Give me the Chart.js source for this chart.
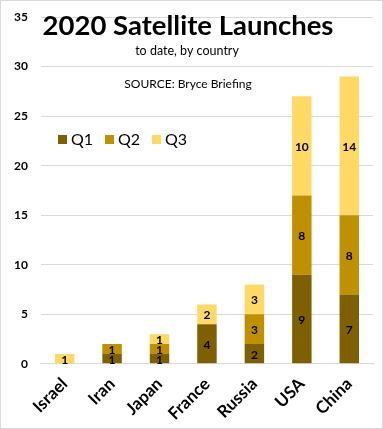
<!DOCTYPE html>
<html>
<head>
<meta charset="utf-8">
<script src="https://cdn.jsdelivr.net/npm/chart.js@4/dist/chart.umd.min.js"></script>
<style>
  body { margin: 0; background: #fff; }
  #wrap { width: 381px; height: 427px; border: 1px solid #d9d9d9; }
</style>
</head>
<body>
<div id="wrap"><canvas id="myChart" width="381" height="427"></canvas></div>
<script>
var countries = ['Israel', 'Iran', 'Japan', 'France', 'Russia', 'USA', 'China'];
var q1 = [0, 1, 1, 4, 2, 9, 7];
var q2 = [0, 1, 1, 0, 3, 8, 8];
var q3 = [1, 0, 1, 2, 3, 10, 14];
var seriesNames = ['Q1', 'Q2', 'Q3'];
var colors = ['#7F6000', '#BF9000', '#FFD966'];

var fontName = 'Lato, "Open Sans", sans-serif';

// title, notes, legend and bar labels drawn on top of the plot
var overlay = {
    id: 'overlay',
    afterDatasetsDraw: function(chart) {
        var ctx = chart.ctx;
        ctx.save();
        ctx.textAlign = 'center';
        ctx.textBaseline = 'middle';
        ctx.fillStyle = '#000';
        ctx.font = 'bold 12px ' + fontName;
        chart.data.datasets.forEach(function(ds, i) {
            var meta = chart.getDatasetMeta(i);
            meta.data.forEach(function(bar, j) {
                if (!ds.data[j]) return;
                var mid = (bar.y + bar.base) / 2;
                ctx.fillText(ds.data[j], bar.x, mid + 1);
            });
        });

        ctx.font = 'bold 27.5px ' + fontName;
        ctx.fillText('2020 Satellite Launches', 187, 25);
        ctx.font = '12.5px ' + fontName;
        ctx.fillText('to date, by country', 186, 50);
        ctx.font = '12px ' + fontName;
        ctx.fillText('SOURCE: Bryce Briefing', 187, 83);

        // legend
        var x = 57;
        ctx.textAlign = 'left';
        ctx.font = '16px ' + fontName;
        seriesNames.forEach(function(name, i) {
            ctx.fillStyle = colors[i];
            ctx.fillRect(x, 134, 9, 9);
            ctx.fillStyle = '#000';
            ctx.fillText(name, x + 13, 139);
            x += 47;
        });
        ctx.restore();
    }
};

var ctx = document.getElementById('myChart');
var myChart = new Chart(ctx, {
    type: 'bar',
    data: {
        labels: countries,
        datasets: [
            { label: 'Q1', data: q1, backgroundColor: colors[0] },
            { label: 'Q2', data: q2, backgroundColor: colors[1] },
            { label: 'Q3', data: q3, backgroundColor: colors[2] }
        ]
    },
    options: {
        responsive: false,
        animation: false,
        layout: { padding: { top: 3, right: 9, left: 0, bottom: 2 } },
        datasets: { bar: { categoryPercentage: 0.41, barPercentage: 1 } },
        plugins: {
            legend: { display: false },
            tooltip: { enabled: false }
        },
        scales: {
            x: {
                stacked: true,
                grid: { display: false },
                border: { display: true, color: '#d9d9d9' },
                ticks: {
                    color: '#000',
                    font: { family: fontName, size: 17, weight: 'bold' },
                    maxRotation: 45,
                    minRotation: 45,
                    padding: 2
                }
            },
            y: {
                stacked: true,
                min: 0,
                max: 35,
                ticks: {
                    stepSize: 5,
                    color: '#000',
                    font: { family: fontName, size: 12, weight: 'bold', lineHeight: 0.5 },
                    padding: 13
                },
                grid: { color: '#d9d9d9', drawTicks: false },
                border: { display: false }
            }
        }
    },
    plugins: [overlay]
});
</script>
</body>
</html>
